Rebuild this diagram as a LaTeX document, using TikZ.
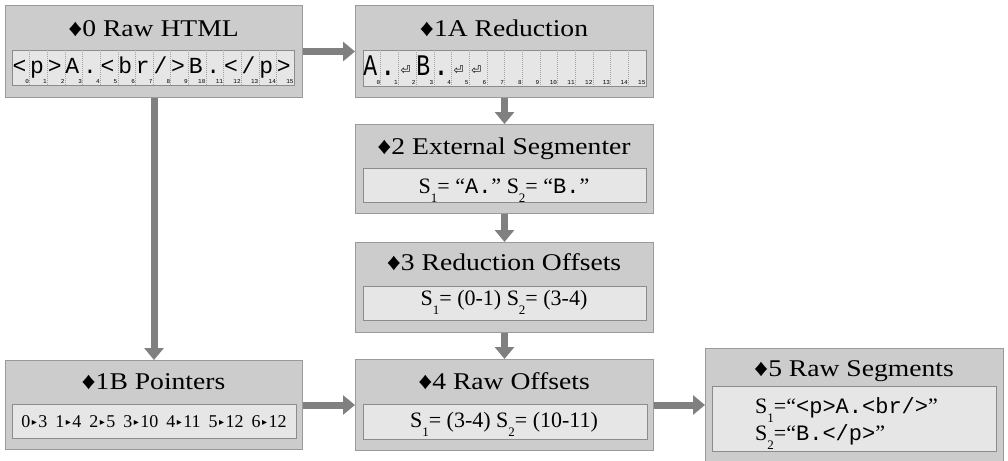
\documentclass[tikz,border=0pt]{standalone}
\usepackage{fontspec}
\setmainfont{Liberation Serif}[FakeStretch=1.15]
\newfontfamily\plainserif{Liberation Serif}
\newfontfamily\monofam{Liberation Mono}
\newfontfamily\cellfam{Liberation Mono}
\newfontfamily\djv{DejaVu Sans}
\usetikzlibrary{arrows.meta}
\definecolor{boxfill}{HTML}{CCCCCC}
\definecolor{boxline}{HTML}{9A9A9A}
\definecolor{stripfill}{HTML}{E6E6E6}
\definecolor{stripline}{HTML}{8C8C8C}
\definecolor{flowc}{HTML}{808080}
\newcommand\sbx[1]{\raisebox{-9pt}{\fontsize{13}{13}\selectfont #1}}
\newcommand\ptr[2]{#1\hspace{1.5pt}{\djv\fontsize{10}{10}\selectfont\raisebox{1.5pt}{▸}}\hspace{1.5pt}#2}
\newcommand\rsym{{\djv\fontsize{12}{12}\selectfont\raisebox{1pt}{⏎}}}
\begin{document}
\begin{tikzpicture}[x=1pt,y=-1pt,
  outer/.style={draw=boxline, fill=boxfill, line width=1pt, anchor=north west, inner sep=0pt},
  strip/.style={draw=stripline, fill=stripfill, line width=1pt, anchor=north west, inner sep=0pt},
  ttl/.style={font=\fontsize{24}{26}\selectfont, anchor=base, inner sep=0pt},
  cnt/.style={font=\plainserif\fontsize{22}{24}\selectfont, anchor=base, inner sep=0pt},
  cellch/.style={font=\cellfam\fontsize{23}{24}\selectfont, anchor=base, inner sep=0pt},
  idx/.style={font=\cellfam\fontsize{6}{6}\selectfont, anchor=base east, inner sep=0pt},
  sep/.style={draw=stripline!80, line width=0.5pt, dash pattern=on 1pt off 1pt},
  flow/.style={draw=flowc, line width=7pt, -{Triangle[width=19pt,length=12pt]}}]
\useasboundingbox (0,0) rectangle (1008,460);
\fill[white] (0,0) rectangle (1008,460);

% outer boxes
\node[outer, minimum width=297pt, minimum height=92pt] (b0)  at (5,5) {};
\node[outer, minimum width=298pt, minimum height=92pt] (b1A) at (355,5) {};
\node[outer, minimum width=298pt, minimum height=89pt] (b2)  at (355,124) {};
\node[outer, minimum width=298pt, minimum height=90pt] (b3)  at (355,242) {};
\node[outer, minimum width=297pt, minimum height=89pt] (b1B) at (5,360) {};
\node[outer, minimum width=298pt, minimum height=91pt] (b4)  at (355,359) {};
\node[outer, minimum width=298pt, minimum height=120pt] (b5) at (705,348) {};

% inner strips
\node[strip, minimum width=282pt, minimum height=35pt] (s0)  at (12,50) {};
\node[strip, minimum width=283pt, minimum height=36pt] (s1A) at (363,50) {};
\node[strip, minimum width=283pt, minimum height=34pt] (s2)  at (363,168) {};
\node[strip, minimum width=283pt, minimum height=34pt] (s3)  at (363,286) {};
\node[strip, minimum width=284pt, minimum height=34pt] (s1B) at (12,404) {};
\node[strip, minimum width=284pt, minimum height=35pt] (s4)  at (363,404) {};
\node[strip, minimum width=284pt, minimum height=65pt] (s5)  at (712,386) {};

% titles
\node[ttl] (t0)  at (153.5,37)  {♦0 Raw HTML};
\node[ttl] (t1A) at (504,37)    {♦1A Reduction};
\node[ttl] (t2)  at (504,154)   {♦2 External Segmenter};
\node[ttl] (t3)  at (504,270)   {♦3 Reduction Offsets};
\node[ttl] (t1B) at (153.5,389) {♦1B Pointers};
\node[ttl] (t4)  at (504,389)   {♦4 Raw Offsets};
\node[ttl] (t5)  at (854,376)   {♦5 Raw Segments};

% strip 0 cells
\foreach \i in {1,...,15} {
  \draw[sep] ({12+\i*17.625},50) -- ({12+\i*17.625},85);
}
\foreach \c [count=\i from 0] in {{<},{p},{>},{A},{.},{<},{b},{r},{/},{>},{B},{.},{<},{/},{p},{>}} {
  \node[cellch] (c0-\i) at ({12+\i*17.625+7.5},74) {\c};
  \node[idx] (n0-\i) at ({12+\i*17.625+17.3},83.5) {\i};
}
% strip 1A cells
\foreach \i in {1,...,15} {
  \draw[sep] ({363+\i*17.6875},50) -- ({363+\i*17.6875},86);
}
\foreach \c [count=\i from 0] in {{\scalebox{1}[1.3]{A}},{\scalebox{1.2}[1.3]{.}},{\rsym},{\scalebox{1}[1.3]{B}},{\scalebox{1.2}[1.3]{.}},{\rsym},{\rsym}} {
  \node[cellch] (c1-\i) at ({363+\i*17.6875+7.3},75) {\c};
}
\foreach \i in {0,...,15} {
  \node[idx] (n1-\i) at ({363+\i*17.6875+17.3},84.5) {\i};
}

% contents
\node[cnt] (x2) at (504,193) {S\sbx{1}= “{\monofam A.}” S\sbx{2}= “{\monofam B.}”};
\node[cnt] (x3) at (504,305) {S\sbx{1}= (0-1) S\sbx{2}= (3-4)};
\node[cnt] (x4) at (504,427) {S\sbx{1}= (3-4) S\sbx{2}= (10-11)};
\node[cnt, font=\plainserif\fontsize{18}{20}\selectfont] (x1B) at (154,427) {\ptr{0}{3}\hspace{8pt}\ptr{1}{4}\hspace{8pt}\ptr{2}{5}\hspace{8pt}\ptr{3}{10}\hspace{8pt}\ptr{4}{11}\hspace{8pt}\ptr{5}{12}\hspace{8pt}\ptr{6}{12}};
\node[cnt, anchor=base west] (x5a) at (755,413) {S\sbx{1}=“{\monofam <p>A.<br/>}”};
\node[cnt, anchor=base west] (x5b) at (755,440) {S\sbx{2}=“{\monofam B.</p>}”};

% connectors
\draw[flow] (b0) -- (b1A);
\draw[flow] (b0) -- (b1B);
\draw[flow] (b1A) -- (b2);
\draw[flow] (b2) -- (b3);
\draw[flow] (b3) -- (b4);
\draw[flow] (b1B) -- (b4);
\draw[flow] (b4.east) -- (b4.east -| b5.west);
\end{tikzpicture}
\end{document}
